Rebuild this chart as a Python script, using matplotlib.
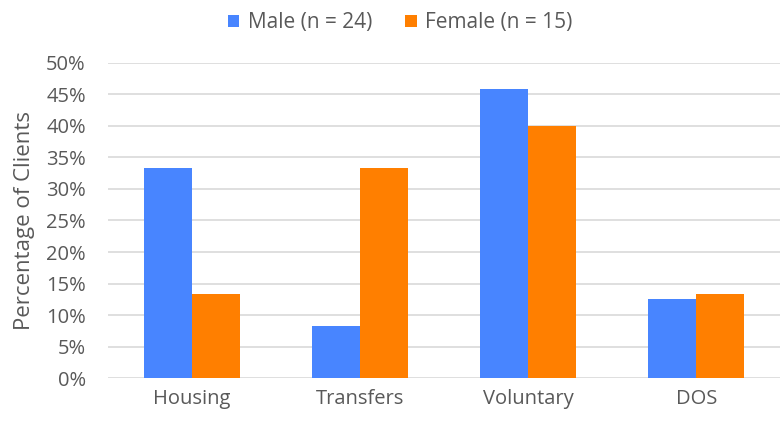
import matplotlib
matplotlib.use("Agg")
import matplotlib.pyplot as plt
import numpy as np
from matplotlib.ticker import PercentFormatter

categories = ["Housing", "Transfers", "Voluntary", "DOS"]
male = [8 / 24, 2 / 24, 11 / 24, 3 / 24]
female = [2 / 15, 5 / 15, 6 / 15, 2 / 15]
series_labels = ["Male (n = 24)", "Female (n = 15)"]

plt.rcParams['font.family'] = ['Open Sans', 'DejaVu Sans']
text_color = '#595959'

fig = plt.figure(figsize=(7.8, 4.21), dpi=100)
ax = fig.add_axes([0.1385, 0.1021, 0.862, 0.7483])

x = np.arange(len(categories))
w = 0.285
ax.bar(x - w / 2, male, w, color='#4885FF', label=series_labels[0], zorder=3)
ax.bar(x + w / 2, female, w, color='#FF7F00', label=series_labels[1], zorder=3)

ax.set_xlim(-0.5, len(categories) - 0.5)
ax.set_ylim(0, 0.5)
ax.set_yticks(np.arange(0, 0.51, 0.05))
ax.yaxis.set_major_formatter(PercentFormatter(1.0, decimals=0))
ax.grid(axis='y', color='#D9D9D9', linewidth=1.2, zorder=0)
ax.set_xticks(x)
ax.set_xticklabels(categories)
ax.tick_params(length=0, labelsize=14.5, colors=text_color, pad=8)
ax.tick_params(axis='y', pad=16)
for s in ax.spines.values():
    s.set_visible(False)

ax.set_ylabel("Percentage of Clients", fontsize=16, color=text_color, labelpad=8)

fig.legend(loc='upper center', bbox_to_anchor=(0.513, 1.015), ncol=2, frameon=False,
           fontsize=15, labelcolor=text_color, handlelength=0.55, handleheight=0.55,
           columnspacing=1.6, handletextpad=0.4)

fig.savefig("out.png", dpi=100)
